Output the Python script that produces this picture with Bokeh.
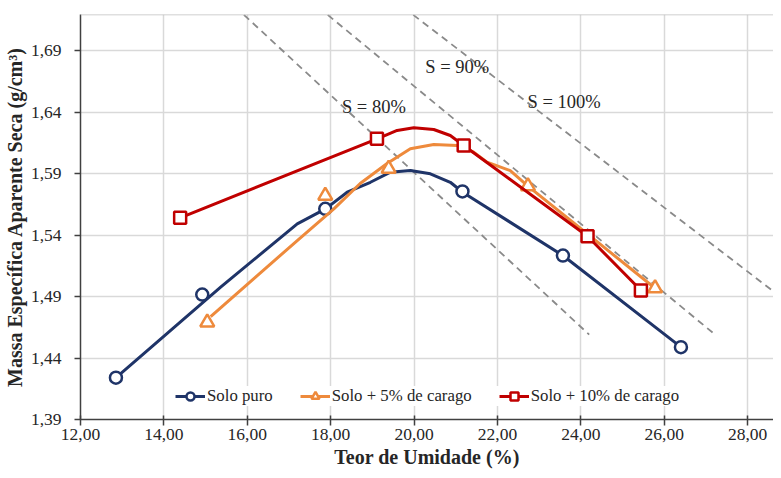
from bokeh.plotting import figure
from bokeh.models import (FixedTicker, CustomJSTickFormatter, Legend, LegendItem,
                          Span, Label)
from bokeh.embed import file_html
from bokeh.resources import INLINE

# ---------------- data ----------------
x_ticks = [12, 14, 16, 18, 20, 22, 24, 26, 28]
y_ticks = [1.39, 1.44, 1.49, 1.54, 1.59, 1.64, 1.69]

# measured points (markers)
puro_w = [12.85, 14.92, 17.87, 21.16, 23.57, 26.40]
puro_d = [1.424, 1.4916, 1.5613, 1.5754, 1.5233, 1.4488]
c5_w = [15.04, 17.87, 19.39, 22.73, 25.78]
c5_d = [1.469, 1.572, 1.594, 1.5797, 1.4967]
c10_w = [14.39, 19.11, 21.19, 24.16, 25.44]
c10_d = [1.554, 1.6182, 1.6128, 1.539, 1.4949]

# drawn (smoothed) curves
puro_curve_w = [12.846, 15.361, 17.198, 17.876, 18.395, 18.953, 19.432, 19.911,
                20.390, 20.869, 21.174, 23.569, 26.402]
puro_curve_d = [1.4239, 1.4976, 1.5491, 1.5613, 1.5748, 1.5829, 1.5911, 1.5924,
                1.5898, 1.5829, 1.5746, 1.5233, 1.4488]
c5_curve_w = [15.121, 17.198, 18.077, 18.707, 19.353, 19.911, 20.472, 21.030,
              21.430, 21.749, 22.307, 22.731, 25.780]
c5_curve_d = [1.4737, 1.5355, 1.5613, 1.5819, 1.5981, 1.6101, 1.6136, 1.6128,
              1.6073, 1.5992, 1.5924, 1.5797, 1.4967]
c10_curve_w = [14.388, 19.114, 19.593, 19.993, 20.472, 20.869, 21.190, 24.160, 25.444]
c10_curve_d = [1.5540, 1.6182, 1.6250, 1.6272, 1.6258, 1.6209, 1.6128, 1.5390, 1.4949]

# saturation lines
s80_w = [15.92, 24.20]
s80_d = [1.719, 1.459]
s90_w = [17.93, 27.22]
s90_d = [1.719, 1.459]
s100_w = [19.98, 28.72]
s100_d = [1.719, 1.4915]

sat_labels = ["S = 80%", "S = 90%", "S = 100%"]
sat_label_w = [18.27, 20.27, 22.72]
sat_label_d = [1.6439, 1.6764, 1.6485]

series_names = ["Solo puro", "Solo + 5% de carago", "Solo + 10% de carago"]

# ---------------- styling ----------------
FONT = "Liberation Serif"
NAVY = "#1F3468"
ORANGE = "#EE8A3C"
RED = "#C00000"
TXT = "#262626"

p = figure(width=773, height=470, x_range=(12, 28.62), y_range=(1.39, 1.7193),
           output_backend="svg", toolbar_location=None,
           min_border_left=79, min_border_right=0, min_border_top=14,
           min_border_bottom=51)
p.outline_line_color = None
p.background_fill_color = "white"

fmt = CustomJSTickFormatter(code="return tick.toFixed(2).replace('.', ',');")
p.xaxis.ticker = FixedTicker(ticks=x_ticks)
p.yaxis.ticker = FixedTicker(ticks=y_ticks)
p.xaxis.formatter = fmt
p.yaxis.formatter = fmt
p.xgrid.ticker = FixedTicker(ticks=x_ticks)
p.ygrid.ticker = FixedTicker(ticks=y_ticks)
for g in (p.xgrid, p.ygrid):
    g.grid_line_color = "#d9d9d9"
    g.grid_line_width = 1.5

for ax in (p.xaxis, p.yaxis):
    ax.axis_line_color = "#404040"
    ax.axis_line_width = 1.5
    ax.major_tick_line_color = "#404040"
    ax.major_tick_line_width = 1.5
    ax.minor_tick_line_color = None
    ax.major_label_text_font = FONT
    ax.major_label_text_font_size = "17.5px"
    ax.major_label_text_color = TXT
    ax.axis_label_text_font = FONT
    ax.axis_label_text_font_style = "bold"
    ax.axis_label_text_font_size = "20px"
    ax.axis_label_text_color = TXT

p.xaxis.axis_label = "Teor de Umidade (%)"
p.yaxis.axis_label = "Massa Específica Aparente Seca (g/cm³)"
p.xaxis.major_tick_in = 4
p.xaxis.major_tick_out = 6
p.xaxis.major_label_standoff = 3
p.xaxis.axis_label_standoff = 3
p.yaxis.major_tick_in = 0
p.yaxis.major_tick_out = 6
p.yaxis.major_label_standoff = 13
p.yaxis.axis_label_standoff = 2

# top border
p.add_layout(Span(location=1.7193, dimension="width", line_color="#bfbfbf",
                  line_width=1.5))

# saturation lines
for w, d in ((s80_w, s80_d), (s90_w, s90_d), (s100_w, s100_d)):
    p.line(w, d, line_color="#8a8a8a", line_width=1.8, line_dash="7 5")
for t, x, y in zip(sat_labels, sat_label_w, sat_label_d):
    p.add_layout(Label(x=x, y=y, text=t, text_font=FONT, text_font_size="18.5px",
                       text_color=TXT, text_baseline="middle", text_align="left"))

items = []
specs = [
    (puro_curve_w, puro_curve_d, puro_w, puro_d, NAVY, "circle", 12),
    (c5_curve_w, c5_curve_d, c5_w, c5_d, ORANGE, "triangle", 14),
    (c10_curve_w, c10_curve_d, c10_w, c10_d, RED, "square", 12),
]
for name, (cw, cd, mw, md, col, mk, sz) in zip(series_names, specs):
    lr = p.line(cw, cd, line_color=col, line_width=3, line_join="round")
    sr = p.scatter(mw, md, marker=mk, size=sz, line_color=col, line_width=2.5,
                   fill_color="white")
    items.append(LegendItem(label=name, renderers=[lr, sr]))

legend = Legend(items=items, orientation="horizontal", location=(95, 13),
                background_fill_color="white", background_fill_alpha=1,
                border_line_color=None, label_text_font=FONT,
                label_text_font_size="16.8px", label_text_color=TXT,
                glyph_width=30, glyph_height=20, spacing=27, label_standoff=2,
                padding=4, margin=0)
p.add_layout(legend)

open("out.html", "w").write(file_html(p, INLINE))
